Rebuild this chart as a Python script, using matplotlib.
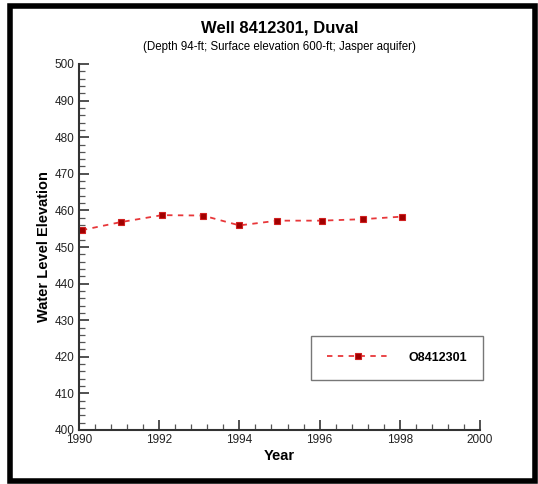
import matplotlib
matplotlib.use("Agg")
import matplotlib.pyplot as plt
from matplotlib.ticker import MultipleLocator
from matplotlib.patches import Rectangle

plt.rcParams['font.family'] = ['Liberation Sans', 'DejaVu Sans']

years = [1990.07, 1991.04, 1992.07, 1993.09, 1994.0, 1994.95, 1996.05, 1997.07, 1998.06]
levels = [454.6, 456.8, 458.7, 458.6, 455.9, 457.2, 457.2, 457.6, 458.3]
series_name = "O8412301"
title = "Well 8412301, Duval"
subtitle = "(Depth 94-ft; Surface elevation 600-ft; Jasper aquifer)"

W, H = 538, 484
fig = plt.figure(figsize=(W / 100, H / 100), dpi=100)
ax = fig.add_axes([79 / W, 1 - 430 / H, (480 - 79) / W, (430 - 64) / H])

ax.plot(years, levels, linestyle=(0, (3, 3)), color='#e8373a', linewidth=1.3,
        marker='s', markersize=5, markerfacecolor='#a00000',
        markeredgecolor='#d02020', markeredgewidth=0.8, label=series_name)

ax.set_xlim(1990, 2000)
ax.set_ylim(400, 500)
ax.xaxis.set_major_locator(MultipleLocator(2))
ax.xaxis.set_minor_locator(MultipleLocator(0.4))
ax.yaxis.set_major_locator(MultipleLocator(10))
ax.yaxis.set_minor_locator(MultipleLocator(2))
ax.tick_params(which='major', direction='in', length=7, width=1.2, labelsize=8.5,
               colors='#333333', labelcolor='#222222')
ax.tick_params(which='minor', direction='in', length=4, width=0.9, colors='#555555')
ax.tick_params(axis='x', pad=3)
ax.tick_params(axis='y', pad=3)
for s in ['top', 'right']:
    ax.spines[s].set_visible(False)
for s in ['left', 'bottom']:
    ax.spines[s].set_linewidth(1.5)
    ax.spines[s].set_color('#333333')

ax.set_xlabel("Year", fontsize=10.5, fontweight='bold', labelpad=2)
ax.set_ylabel("Water Level Elevation", fontsize=10.5, fontweight='bold', labelpad=3)

cx = 0.5 * (79 + 480) / W
fig.text(cx, 1 - 28 / H, title, ha='center', va='center',
         fontsize=12, fontweight='bold')
fig.text(cx, 1 - 47 / H, subtitle, ha='center', va='center',
         fontsize=8.3)

leg = ax.legend(loc='lower right', bbox_to_anchor=(483 / W, 1 - 380 / H, 0, 0),
                bbox_transform=fig.transFigure, fontsize=9, frameon=True, fancybox=False,
                borderpad=1.3, handlelength=5, handletextpad=1.5, borderaxespad=0)
leg.get_frame().set_edgecolor('#555555')
leg.get_frame().set_linewidth(1.0)
for t in leg.get_texts():
    t.set_fontweight('bold')

# outer frame
fig.patches.append(Rectangle((10 / W, 1 - 481 / H), (535 - 10) / W, (481 - 6) / H,
                             transform=fig.transFigure, fill=False, edgecolor='black',
                             linewidth=4))

fig.savefig("out.png", dpi=100)
